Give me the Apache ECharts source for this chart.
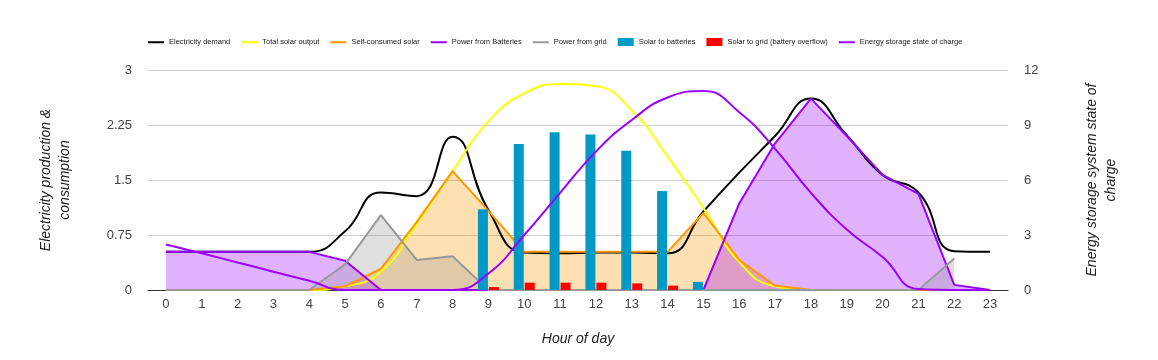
<!DOCTYPE html>
<html>
<head>
<meta charset="utf-8">
<script src="https://cdn.jsdelivr.net/npm/echarts@6/dist/echarts.min.js"></script>
<style>
html,body{margin:0;padding:0;background:#fff;}
#chart{width:1158px;height:360px;}
</style>
</head>
<body>
<div id="chart"></div>
<script>
var hours = ['0','1','2','3','4','5','6','7','8','9','10','11','12','13','14','15','16','17','18','19','20','21','22','23'];
var demand       = [0.52,0.52,0.52,0.52,0.52,0.80,1.33,1.28,2.09,1.09,0.51,0.50,0.51,0.51,0.50,1.07,1.60,2.10,2.61,2.11,1.57,1.33,0.53,0.52];
var solarTotal   = [0,0,0,0,0,0.05,0.25,0.90,1.62,2.30,2.68,2.81,2.78,2.45,1.82,1.12,0.38,0.05,0,0,0,0,0,0];
var selfConsumed = [0,0,0,0,0,0.05,0.29,0.93,1.62,1.08,0.52,0.52,0.52,0.52,0.52,1.05,0.41,0.06,0,0,0,0,0,0];
var fromBattery  = [0.52,0.52,0.52,0.52,0.52,0.40,0,0,0,0,0,0,0,0,0,0,1.18,2.00,2.61,2.10,1.57,1.31,0.07,0];
var fromGrid     = [0,0,0,0,0,0.35,1.02,0.41,0.46,0,0,0,0,0,0,0,0,0,0,0,0,0,0.43,null];
var toBatteries  = [null,null,null,null,null,null,null,null,null,1.10,1.99,2.15,2.12,1.90,1.35,0.11,null,null,null,null,null,null,null,null];
var toGrid       = [null,null,null,null,null,null,null,null,null,0.04,0.10,0.10,0.10,0.09,0.06,null,null,null,null,null,null,null,null,null];
var stateOfCharge= [2.48,2.0,1.5,1.0,0.5,0,0,0,0,0.9,3.0,5.3,7.55,9.27,10.5,10.85,9.7,7.7,5.3,3.3,1.8,0.05,0,0];
var leftTicks = {min:0, max:3, interval:0.75};
var rightTicks = {min:0, max:12, interval:3};

var chart = echarts.init(document.getElementById('chart'));
var FONT = 'Liberation Sans, Arial, sans-serif';
var titleStyle = {fontFamily:FONT, fontStyle:'italic', fontSize:14, color:'#222', lineHeight:19};
var labelStyle = {fontFamily:FONT, fontSize:13, color:'#444'};
// thin horizontal stroke icon inside a 16x8 box
var LINE_ICON = 'path://M0,0L0.01,0L0.01,0.01Z M0,3.2L16,3.2L16,5.2L0,5.2Z M15.99,8L16,8L16,7.99Z';
function lineSeries(name, data, color, smooth, area, yIdx, z){
  var s = {
    name:name, type:'line', data:data, smooth:smooth, symbol:'none',
    yAxisIndex:yIdx||0, z:z||2,
    lineStyle:{color:color, width:2},
    itemStyle:{color:color},
    emphasis:{disabled:true}
  };
  if(area){ s.areaStyle = {color:color, opacity:0.3}; }
  return s;
}
chart.setOption({
  animation:false,
  backgroundColor:'#fff',
  legend:{
    left:148, top:38, padding:0, itemWidth:16, itemHeight:8, itemGap:11,
    textStyle:{fontFamily:FONT, fontSize:7.5, color:'#222'},
    data:[
      {name:'Electricity demand', icon:LINE_ICON},
      {name:'Total solar output', icon:LINE_ICON},
      {name:'Self-consumed solar', icon:LINE_ICON},
      {name:'Power from Batteries', icon:LINE_ICON},
      {name:'Power from grid', icon:LINE_ICON},
      {name:'Solar to batteries', icon:'rect'},
      {name:'Solar to grid (battery overflow)', icon:'rect'},
      {name:'Energy storage state of charge', icon:LINE_ICON}
    ]
  },
  grid:{left:148, right:150, top:70, bottom:70},
  xAxis:{
    type:'category', data:hours, boundaryGap:true,
    axisTick:{show:false},
    axisLine:{show:true, lineStyle:{color:'#333', width:1}},
    axisLabel:Object.assign({margin:8}, labelStyle),
    name:'Hour of day', nameLocation:'middle', nameGap:40,
    nameTextStyle:titleStyle
  },
  yAxis:[{
    type:'value', min:leftTicks.min, max:leftTicks.max, interval:leftTicks.interval,
    axisLine:{show:false}, axisTick:{show:false},
    axisLabel:Object.assign({margin:16}, labelStyle),
    splitLine:{lineStyle:{color:'#ccc', width:1}},
    name:'Electricity production &\nconsumption', nameLocation:'middle', nameRotate:90, nameGap:73,
    nameTextStyle:titleStyle
  },{
    type:'value', min:rightTicks.min, max:rightTicks.max, interval:rightTicks.interval,
    position:'right',
    axisLine:{show:false}, axisTick:{show:false},
    axisLabel:Object.assign({margin:16}, labelStyle),
    splitLine:{show:false},
    name:'Energy storage system state of\ncharge', nameLocation:'middle', nameRotate:90, nameGap:75,
    nameTextStyle:titleStyle
  }],
  series:[
    lineSeries('Electricity demand', demand, '#000000', 0.5, false),
    lineSeries('Total solar output', solarTotal, '#ffff00', 0.5, false),
    lineSeries('Self-consumed solar', selfConsumed, '#ff9900', false, true),
    lineSeries('Power from Batteries', fromBattery, '#9900ff', false, true),
    lineSeries('Power from grid', fromGrid, '#999999', false, true),
    {name:'Solar to batteries', type:'bar', z:3, data:toBatteries, barWidth:10, barGap:'10%', itemStyle:{color:'#0099c6'}, emphasis:{disabled:true}},
    {name:'Solar to grid (battery overflow)', type:'bar', z:3, data:toGrid, barWidth:10, barGap:'10%', itemStyle:{color:'#ff0000'}, emphasis:{disabled:true}},
    lineSeries('Energy storage state of charge', stateOfCharge, '#9900ff', 0.5, false, 1, 4)
  ]
});
</script>
</body>
</html>
